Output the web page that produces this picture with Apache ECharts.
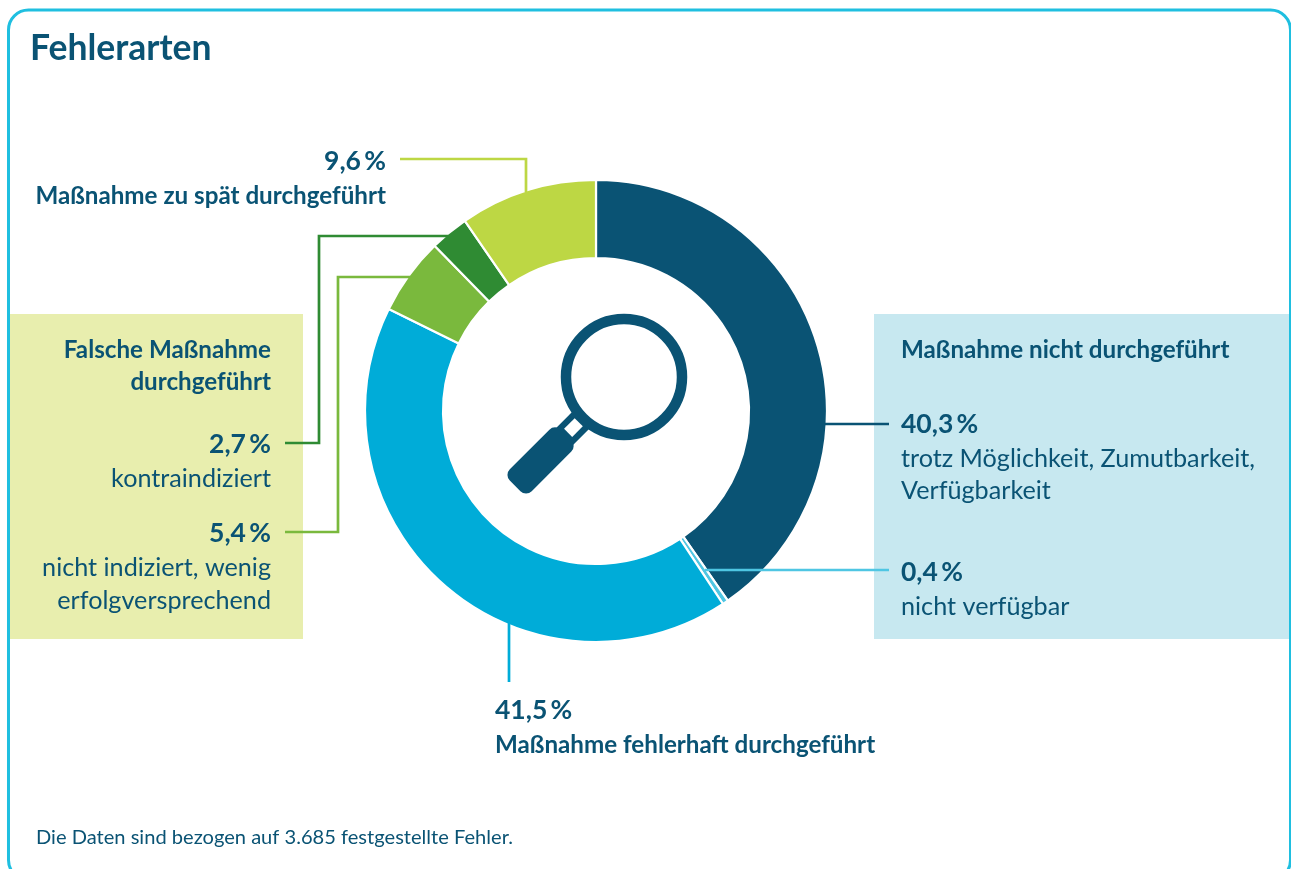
<!DOCTYPE html>
<html>
<head>
<meta charset="utf-8">
<title>Fehlerarten</title>
<style>
  html, body { margin: 0; padding: 0; background: #fff; }
  #chart { width: 1291px; height: 869px; }
</style>
<script src="https://cdn.jsdelivr.net/npm/echarts@6/dist/echarts.min.js"></script>
</head>
<body>
<div id="chart"></div>
<script>
// clockwise from 12 o'clock
var categories = [
  'trotz Möglichkeit, Zumutbarkeit, Verfügbarkeit',
  'nicht verfügbar',
  'Maßnahme fehlerhaft durchgeführt',
  'nicht indiziert, wenig erfolgversprechend',
  'kontraindiziert',
  'Maßnahme zu spät durchgeführt'
];
var values = [40.3, 0.4, 41.5, 5.4, 2.7, 9.6];
var colors = ['#0a5374', '#4fc6e3', '#00acd8', '#7ab93d', '#2f8b33', '#bdd744'];

var FONT = 'Lato';
var INK = '#0a5374';

function pct(v) {
  return v.toFixed(1).replace('.', ',') + '\u2009%';
}

function label(text, x, y, align, weight, size) {
  return {
    type: 'text',
    z: 10,
    silent: true,
    style: {
      text: text,
      x: x,
      y: y,
      align: align,
      verticalAlign: 'middle',
      fontFamily: FONT,
      fontWeight: weight,
      fontSize: size,
      fill: INK
    }
  };
}
function head(text, x, y, align) { return label(text, x, y, align, 700, 24.2); }
function body(text, x, y, align) { return label(text, x, y, align, 400, 25.2); }
function num(v, x, y, align) { return label(pct(v), x, y, align, 700, 26.5); }

function leader(points, color) {
  return {
    type: 'polyline',
    z: 5,
    silent: true,
    shape: { points: points },
    style: { stroke: color, lineWidth: 2.7, fill: null }
  };
}

function panel(x, y, w, h, color) {
  return {
    type: 'rect',
    z: 0,
    silent: true,
    shape: { x: x, y: y, width: w, height: h },
    style: { fill: color }
  };
}

// piece of the magnifier, laid along the handle axis (45 deg down-left of the lens)
var lensX = 624, lensY = 377;
function handlePart(from, to, width, r, color, z) {
  var mid = (from + to) / 2 / Math.SQRT2;
  return {
    type: 'rect',
    z: z,
    silent: true,
    x: lensX - mid,
    y: lensY + mid,
    rotation: Math.PI / 4,
    shape: { x: -(to - from) / 2, y: -width / 2, width: to - from, height: width, r: r },
    style: { fill: color }
  };
}

var graphics = [
  panel(10, 314, 293, 325, '#e8eeae'),
  panel(874, 314, 417, 325, '#c7e8f0'),
  {
    type: 'rect',
    z: 1,
    silent: true,
    shape: { x: 8.5, y: 10, width: 1282, height: 870, r: 20 },
    style: { fill: null, stroke: '#1fbfe0', lineWidth: 3 }
  },

  leader([[400, 159], [526, 159], [526, 192]], colors[5]),
  leader([[285, 443], [319, 443], [319, 236], [449, 236]], colors[4]),
  leader([[285, 532], [338, 532], [338, 277], [410, 277]], colors[3]),
  leader([[825, 424], [889, 424]], colors[0]),
  leader([[705, 570], [889, 570]], colors[1]),
  leader([[509, 622], [509, 682]], colors[2]),

  num(values[5], 386, 161, 'right'),
  head(categories[5], 386, 196, 'right'),

  head('Falsche Maßnahme', 271, 350, 'right'),
  head('durchgeführt', 271, 382, 'right'),
  num(values[4], 271, 444, 'right'),
  body(categories[4], 271, 479, 'right'),
  num(values[3], 271, 533, 'right'),
  body('nicht indiziert, wenig', 271, 568, 'right'),
  body('erfolgversprechend', 271, 601, 'right'),

  head('Maßnahme nicht durchgeführt', 901, 350, 'left'),
  num(values[0], 901, 424, 'left'),
  body('trotz Möglichkeit, Zumutbarkeit,', 901, 459, 'left'),
  body('Verfügbarkeit', 901, 491, 'left'),
  num(values[1], 901, 572, 'left'),
  body(categories[1], 901, 607, 'left'),

  num(values[2], 495, 710, 'left'),
  head(categories[2], 495, 745, 'left'),

  label('Die Daten sind bezogen auf 3.685 festgestellte Fehler.', 36, 838, 'left', 400, 20.1),

  // magnifier
  {
    type: 'circle',
    z: 6,
    silent: true,
    shape: { cx: lensX, cy: lensY, r: 58 },
    style: { fill: '#fff', stroke: INK, lineWidth: 10.5 }
  },
  handlePart(60, 84, 24, 0, INK, 5),
  handlePart(64, 79, 11.5, 0, '#fff', 6),
  handlePart(82, 154, 31, 8, INK, 6)
];

var chart = echarts.init(document.getElementById('chart'), null, { renderer: 'canvas' });

chart.setOption({
  animation: false,
  backgroundColor: '#ffffff',
  title: {
    text: 'Fehlerarten',
    left: 25,
    top: 26,
    textStyle: { color: INK, fontFamily: FONT, fontWeight: 700, fontSize: 35.5 }
  },
  series: [{
    type: 'pie',
    center: [596, 411],
    radius: [153, 231],
    startAngle: 90,
    clockwise: true,
    silent: true,
    z: 2,
    label: { show: false },
    labelLine: { show: false },
    itemStyle: { borderColor: '#fff', borderWidth: 2.2 },
    data: values.map(function (v, i) {
      return { name: categories[i], value: v, itemStyle: { color: colors[i] } };
    })
  }],
  graphic: { elements: graphics }
});
</script>
</body>
</html>
